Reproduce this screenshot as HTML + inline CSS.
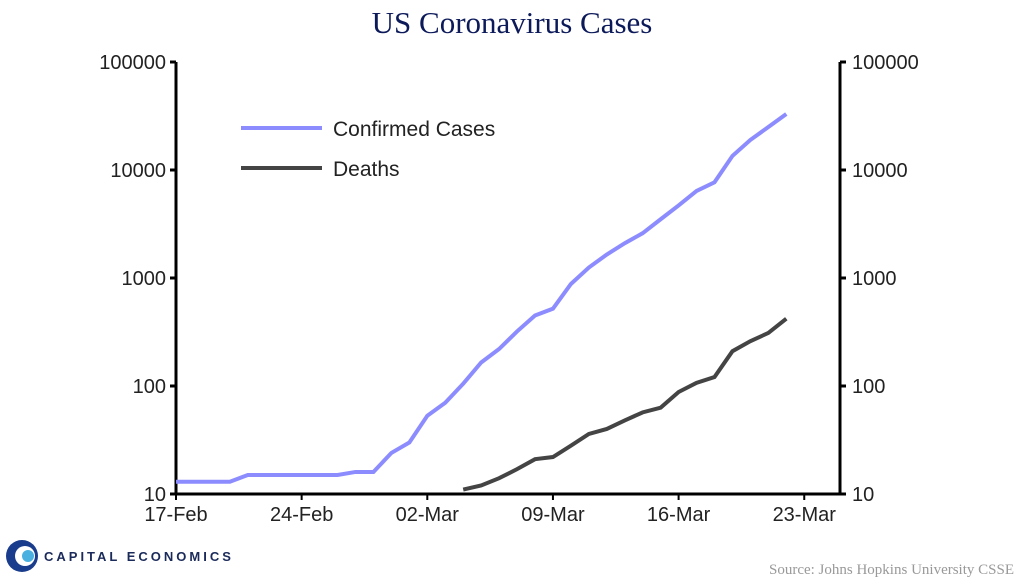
<!DOCTYPE html>
<html><head><meta charset="utf-8"><style>
body{margin:0;background:#fff;width:1024px;height:583px;overflow:hidden;font-family:"Liberation Sans",sans-serif}
</style></head><body>
<svg id="c" width="1024" height="583" xmlns="http://www.w3.org/2000/svg">
<text x="512" y="33" text-anchor="middle" font-family="Liberation Serif, serif" font-size="31" fill="#0d1a5a">US Coronavirus Cases</text>
<g id="axes"></g>
<g id="series"></g>
<g>
<line x1="241" y1="128" x2="322" y2="128" stroke="#8c8cff" stroke-width="4"/>
<text x="333" y="136" font-size="21" fill="#222">Confirmed Cases</text>
<line x1="241" y1="168" x2="322" y2="168" stroke="#444" stroke-width="4"/>
<text x="333" y="176" font-size="21" fill="#222">Deaths</text>
</g>
<g>
<circle cx="22" cy="556" r="16" fill="#1a3c8c"/>
<circle cx="25" cy="556" r="10" fill="#fff"/>
<circle cx="28" cy="556" r="6" fill="#4ab0e0"/>
<text x="44" y="561" font-size="13" fill="#1a2a5a" letter-spacing="3" font-weight="bold">CAPITAL ECONOMICS</text>
</g>
<text x="1014" y="574" text-anchor="end" font-family="Liberation Serif, serif" font-size="15" fill="#999">Source: Johns Hopkins University CSSE</text>
</svg>
<script>
const yTicks=[10,100,1000,10000,100000];
const yTickLabels=["10","100","1000","10000","100000"];
const xTickDays=[0,7,14,21,28,35];
const xTickLabels=["17-Feb","24-Feb","02-Mar","09-Mar","16-Mar","23-Mar"];
const confirmedDays=[0,1,2,3,4,5,6,7,8,9,10,11,12,13,14,15,16,17,18,19,20,21,22,23,24,25,26,27,28,29,30,31,32,33,34];
const confirmed=[13,13,13,13,15,15,15,15,15,15,16,16,24,30,53,70,105,165,220,320,450,520,880,1250,1650,2100,2600,3500,4700,6400,7700,13500,19000,25000,33000];
const deathDays=[16,17,18,19,20,21,22,23,24,25,26,27,28,29,30,31,32,33,34];
const deaths=[11,12,14,17,21,22,28,36,40,48,57,63,88,107,121,210,260,310,420];
const NS="http://www.w3.org/2000/svg";
const L=176,R=840,T=62,B=494;
const x=d=>L+d*17.95;
const y=v=>B-(Math.log10(v)-1)*108;
function mk(tag,attrs,parent){const e=document.createElementNS(NS,tag);for(const k in attrs)e.setAttribute(k,attrs[k]);parent.appendChild(e);return e;}
const ax=document.getElementById('axes');
let e=mk('line',{x1:L,y1:T,x2:L,y2:B,stroke:'#000','stroke-width':3},ax);


e=mk('line',{x1:R,y1:T,x2:R,y2:B,stroke:'#000','stroke-width':3},ax);


e=mk('line',{x1:L,y1:B,x2:R,y2:B,stroke:'#000','stroke-width':3},ax);


yTicks.forEach((v,i)=>{
 const yy=y(v);
 mk('line',{x1:L-6,y1:yy,x2:L,y2:yy,stroke:'#000','stroke-width':3},ax);
 mk('line',{x1:R,y1:yy,x2:R+6,y2:yy,stroke:'#000','stroke-width':3},ax);
 let t=mk('text',{x:L-10,y:yy+7,'text-anchor':'end','font-size':20,fill:'#222'},ax);t.textContent=yTickLabels[i];
 
 
 t=mk('text',{x:R+12,y:yy+7,'font-size':20,fill:'#222'},ax);t.textContent=yTickLabels[i];
 
 
});
xTickDays.forEach((d,i)=>{
 const xx=x(d);
 mk('line',{x1:xx,y1:B,x2:xx,y2:B+6,stroke:'#000','stroke-width':2},ax);
 const t=mk('text',{x:xx,y:B+27,'text-anchor':'middle','font-size':20,fill:'#222'},ax);t.textContent=xTickLabels[i];
 
 
});
const se=document.getElementById('series');
e=mk('polyline',{points:confirmedDays.map((d,i)=>x(d)+','+y(confirmed[i])).join(' '),fill:'none',stroke:'#8c8cff','stroke-width':4},se);


e=mk('polyline',{points:deathDays.map((d,i)=>x(d)+','+y(deaths[i])).join(' '),fill:'none',stroke:'#444','stroke-width':4},se);


</script>
</body></html>
